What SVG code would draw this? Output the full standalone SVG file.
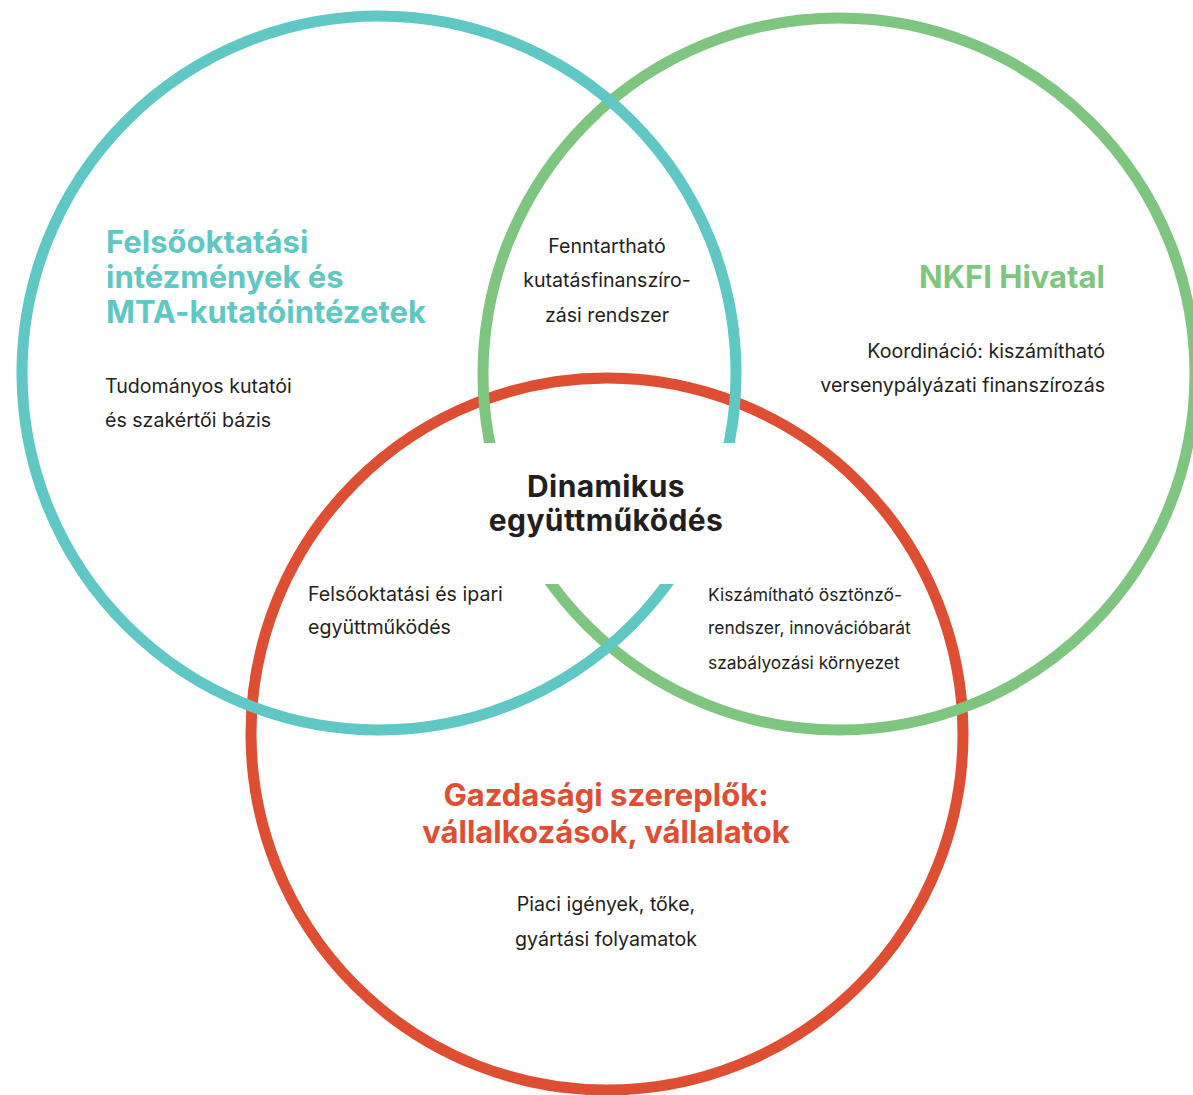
<svg xmlns="http://www.w3.org/2000/svg" width="1193" height="1095" viewBox="0 0 1193 1095">
<style>
.ring{fill:none;stroke-width:11}
.h{font-family:Inter,"Liberation Sans",sans-serif;font-weight:700;font-size:31px}
.c{font-size:30px;letter-spacing:0.4px}
.b{font-family:Inter,"Liberation Sans",sans-serif;font-weight:400;font-size:19.6px;fill:#231f20}
.s{font-family:Inter,"Liberation Sans",sans-serif;font-weight:400;font-size:17.4px;fill:#231f20}
.mid{text-anchor:middle}
.end{text-anchor:end}
</style>
<rect width="1193" height="1095" fill="#ffffff"/>
<g id="connectors">
<circle class="ring" cx="607" cy="734" r="356" stroke="#de4e32"/>
<circle class="ring" cx="839" cy="374" r="356" stroke="#7ec680"/>
<circle class="ring" cx="379" cy="373" r="357" stroke="#5fc8c4"/>
<rect x="440" y="443" width="330" height="141" fill="#ffffff"/>
</g>
<g id="node-teal">
<text class="h" fill="#5fc8c4" x="106" y="253">Felsőoktatási</text>
<text class="h" fill="#5fc8c4" x="106" y="288">intézmények és</text>
<text class="h" fill="#5fc8c4" x="106" y="323">MTA-kutatóintézetek</text>
<text class="b" x="105" y="393">Tudományos kutatói</text>
<text class="b" x="105" y="427">és szakértői bázis</text>
</g>
<g id="node-green">
<text class="h end" fill="#7ec680" x="1105" y="288">NKFI Hivatal</text>
<text class="b end" x="1105" y="358">Koordináció: kiszámítható</text>
<text class="b end" x="1105" y="392">versenypályázati finanszírozás</text>
</g>
<g id="node-teal-green">
<text class="b mid" x="607" y="253">Fenntartható</text>
<text class="b mid" x="607" y="287">kutatásfinanszíro-</text>
<text class="b mid" x="607" y="322">zási rendszer</text>
</g>
<g id="node-center">
<text class="h c mid" fill="#231f20" x="606" y="497">Dinamikus</text>
<text class="h c mid" fill="#231f20" x="606" y="531">együttműködés</text>
</g>
<g id="node-teal-red">
<text class="b" x="308" y="601">Felsőoktatási és ipari</text>
<text class="b" x="308" y="634">együttműködés</text>
</g>
<g id="node-green-red">
<text class="s" x="708" y="601">Kiszámítható ösztönző-</text>
<text class="s" x="708" y="634">rendszer, innovációbarát</text>
<text class="s" x="708" y="669">szabályozási környezet</text>
</g>
<g id="node-red">
<text class="h mid" fill="#de4e32" x="606" y="806">Gazdasági szereplők:</text>
<text class="h mid" fill="#de4e32" x="606" y="843">vállalkozások, vállalatok</text>
<text class="b mid" x="606" y="911">Piaci igények, tőke,</text>
<text class="b mid" x="606" y="946">gyártási folyamatok</text>
</g>
</svg>
